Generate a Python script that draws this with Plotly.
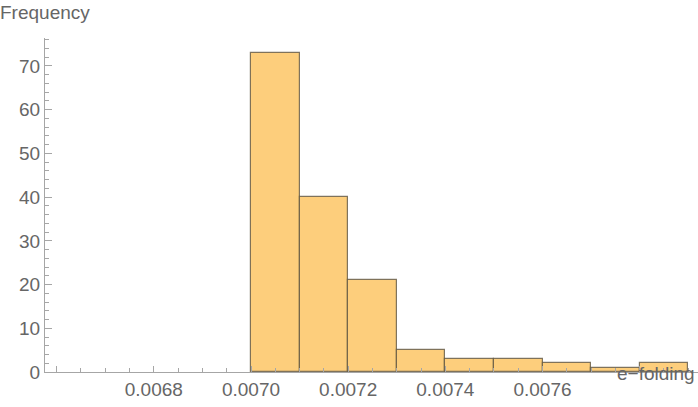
import plotly.graph_objects as go

# Data
bin_edges = [0.0070, 0.0071, 0.0072, 0.0073, 0.0074, 0.0075, 0.0076, 0.0077, 0.0078, 0.0079]
counts = [73, 40, 21, 5, 3, 3, 2, 1, 2]
x_tick_vals = [0.0066, 0.0068, 0.0070, 0.0072, 0.0074, 0.0076, 0.0078]
x_tick_text = ["", "0.0068", "0.0070", "0.0072", "0.0074", "0.0076", ""]
y_tick_vals = [0, 10, 20, 30, 40, 50, 60, 70]
x_label = "e\u2212folding"
y_label = "Frequency"

centers = [(a + b) / 2 for a, b in zip(bin_edges[:-1], bin_edges[1:])]
widths = [b - a for a, b in zip(bin_edges[:-1], bin_edges[1:])]

FONT = "Liberation Sans, Arial, Helvetica, sans-serif"
FS = 19
TXT = "#666666"
AX = "#a6a6a6"

fig = go.Figure()
fig.add_trace(go.Bar(
    x=centers, y=counts, width=widths,
    marker=dict(color="#FDCE7C", line=dict(color="rgba(95,85,65,0.8)", width=1.2)),
    hoverinfo="x+y",
))

fig.update_layout(
    width=698, height=407,
    margin=dict(l=45, r=0, t=38, b=35),
    paper_bgcolor="white", plot_bgcolor="white",
    showlegend=False, bargap=0,
    font=dict(family=FONT, size=FS, color=TXT),
    xaxis=dict(
        range=[0.006576, 0.00792], automargin=False,
        tickmode="array", tickvals=x_tick_vals, ticktext=x_tick_text,
        ticks="inside", ticklen=6, tickcolor=AX, tickwidth=1,
        showline=True, linecolor=AX, linewidth=1,
        showgrid=False, zeroline=False,
        tickfont=dict(size=FS, color=TXT, family=FONT),
        minor=dict(dtick=0.00005, tick0=0.0066, ticks="inside", ticklen=4, tickcolor=AX, showgrid=False),
    ),
    yaxis=dict(
        range=[0, 76.4], automargin=False,
        tickmode="array", tickvals=y_tick_vals,
        ticks="inside", ticklen=7, tickcolor=AX, tickwidth=1,
        showline=True, linecolor=AX, linewidth=1,
        showgrid=False, zeroline=False,
        tickfont=dict(size=FS, color=TXT, family=FONT),
        minor=dict(dtick=2, tick0=0, ticks="inside", ticklen=4, tickcolor=AX, showgrid=False),
    ),
    annotations=[
        dict(text=y_label, xref="paper", yref="paper", x=0, y=1, xshift=-47, yshift=26,
             xanchor="left", yanchor="middle", showarrow=False,
             font=dict(size=FS, color=TXT, family=FONT)),
        dict(text=x_label, xref="paper", yref="paper", x=1, y=0, xshift=-1, yshift=-1,
             xanchor="right", yanchor="middle", showarrow=False,
             font=dict(size=FS, color=TXT, family=FONT)),
    ],
)

fig.write_html("out.html", config={"displayModeBar": False},
               post_script="document.body.style.margin='0';document.body.style.overflow='hidden';")
